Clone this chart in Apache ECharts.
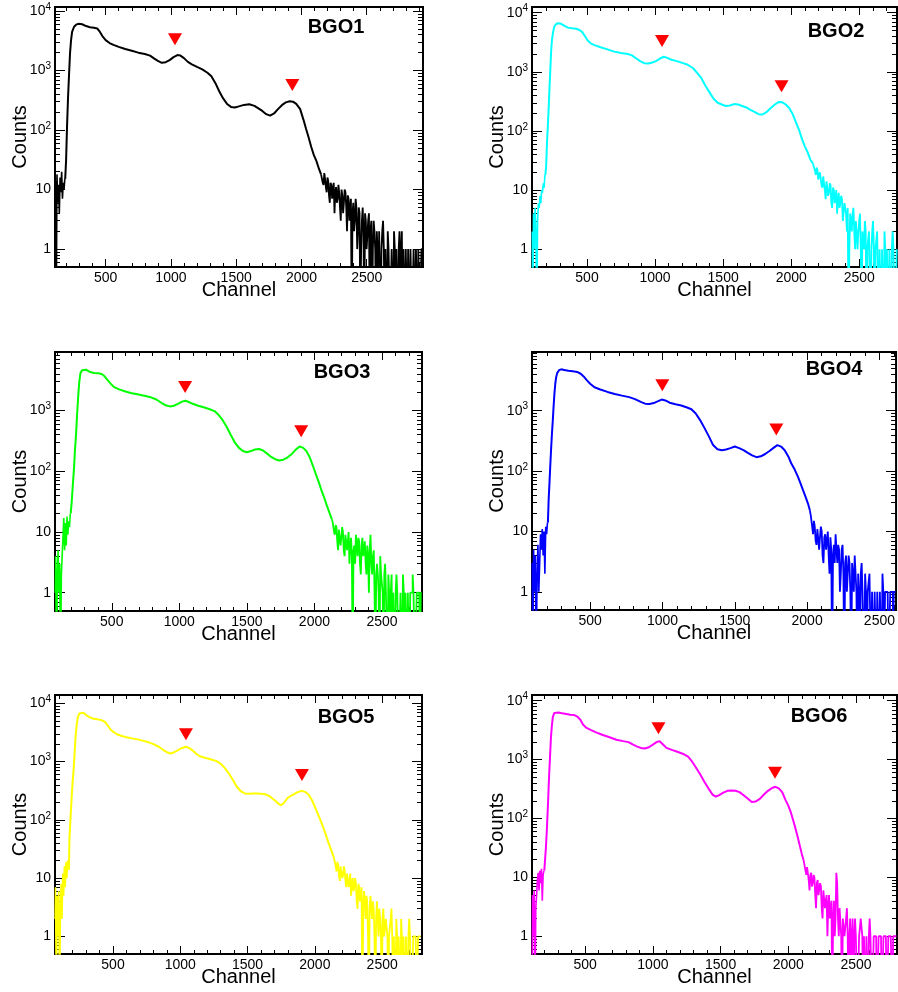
<!DOCTYPE html>
<html>
<head>
<meta charset="utf-8">
<script src="https://cdn.jsdelivr.net/npm/echarts@6/dist/echarts.min.js"></script>
<style>
  html, body { margin: 0; padding: 0; background: #ffffff; }
  #chart { width: 898px; height: 992px; }
</style>
</head>
<body>
<div id="chart"></div>
<script>
// Energy spectra of the six BGO crystals: [channel, counts]
const bgo1 = [
  [112,3],[118,14],[124,0],[130,18],[136,6],[142,12],[148,4],[154,16],[160,9],[166,20],[172,7],[178,13],[184,10],[190,15],
  [197,31],[204,112],[212,360],[220,890],[227,1940],[235,3240],[243,4470],[258,5450],[274,5900],[290,6100],
  [320,6000],[350,5600],[380,5350],[410,5250],[435,5100],[455,4500],[475,3800],[500,3250],[530,2900],[560,2700],
  [600,2500],[650,2300],[700,2150],[750,2000],[800,1900],[840,1780],[870,1600],[900,1450],[930,1350],[960,1380],
  [990,1500],[1020,1680],[1050,1820],[1070,1800],[1100,1620],[1130,1400],[1160,1270],[1200,1150],[1240,1050],
  [1280,920],[1310,800],[1340,620],[1370,450],[1400,340],[1430,275],[1460,245],[1490,240],[1520,250],[1560,265],
  [1600,272],[1640,255],[1670,232],[1700,210],[1730,185],[1760,175],[1790,190],[1820,225],[1850,262],[1880,292],
  [1910,305],[1935,300],[1960,275],[1990,225],[2015,150],[2035,105],[2055,75],[2075,52],[2095,38],[2115,30],
  [2135,22],[2150,18],
  [2160,17],[2166,13],[2172,12],[2178,19],[2184,15],[2190,11],[2196,9],[2202,16],[2208,14],[2214,8],[2220,6],
  [2226,13],[2232,12],[2238,7],[2244,10],[2250,13],[2256,4],[2262,9],[2268,11],[2274,6],[2280,7],[2286,12],
  [2292,9],[2298,5],[2304,3],[2310,10],[2316,8],[2322,4],[2328,6],[2334,10],[2340,9],[2346,5],[2352,2],[2358,8],
  [2364,7],[2370,3],[2376,5],[2382,7],[2388,0],[2394,4],[2400,6],[2406,2],[2412,3],[2418,7],[2424,5],[2430,1],
  [2436,2],[2442,5],[2448,4],[2454,0],[2460,1],[2466,3],[2472,5],[2478,2],[2484,0],[2490,4],[2496,3],[2502,1],
  [2508,1],[2514,3],[2520,4],[2526,0],[2532,2],[2538,3],[2544,0],[2550,1],[2556,3],[2562,2],[2568,1],[2574,0],
  [2580,2],[2586,1],[2592,0],[2598,2],[2604,2],[2610,0],[2616,1],[2622,2],[2628,3],[2634,1],[2640,0],[2646,1],
  [2652,1],[2658,0],[2664,2],[2670,1],[2676,1],[2682,0],[2688,0],[2694,1],[2700,1],[2706,0],[2712,2],[2718,1],
  [2724,0],[2730,1],[2736,1],[2742,0],[2748,1],[2754,2],[2760,0],[2766,1],[2772,2],[2778,0],[2784,1],[2790,1],
  [2796,0],[2802,1],[2808,1],[2814,0],[2820,1],[2826,1],[2832,0],[2838,1],[2844,1],[2850,0],[2856,0],[2862,1],
  [2868,1],[2874,0],[2880,1],[2886,1],[2892,0],[2898,1],[2904,1],[2910,0],[2916,0],[2922,1],[2928,1]
];
const bgo2 = [
  [98,2],[104,0],[110,4],[116,1],[122,5],[128,2],[134,0],[140,3],[146,6],[152,5],[158,8],[164,6],[170,10],[176,9],
  [182,13],[188,11],[194,18],
  [200,25],[206,62],[212,118],[218,230],[224,500],[230,1020],[236,2100],[242,3330],[250,4600],[260,5850],[275,6500],[290,6650],
  [310,6500],[335,6000],[360,5600],[390,5450],[420,5350],[445,5100],[465,4700],[485,4000],[505,3400],[530,3000],
  [560,2800],[600,2600],[650,2400],[700,2200],[750,2080],[800,2000],[830,1900],[860,1700],[890,1520],[920,1400],
  [950,1380],[980,1440],[1010,1530],[1040,1700],[1065,1800],[1090,1720],[1120,1600],[1160,1520],[1200,1420],
  [1240,1320],[1280,1150],[1310,950],[1340,780],[1370,580],[1400,450],[1430,350],[1460,300],[1490,280],[1520,265],
  [1550,270],[1580,285],[1610,280],[1640,265],[1670,250],[1700,228],[1730,210],[1760,192],[1790,190],[1820,210],
  [1850,245],[1880,280],[1910,310],[1935,305],[1960,280],[1985,245],[2010,195],[2035,140],[2060,100],[2080,72],
  [2100,55],[2120,44],[2140,33],[2160,28],
  [2172,26],[2178,21],[2184,18],[2190,24],[2196,22],[2202,15],[2208,14],[2214,20],[2220,19],[2226,12],[2232,11],
  [2238,17],[2244,16],[2250,10],[2256,7],[2262,14],[2268,13],[2274,8],[2280,9],[2286,13],[2292,12],[2298,6],
  [2304,5],[2310,11],[2316,10],[2322,6],[2328,8],[2334,10],[2340,4],[2346,7],[2352,9],[2358,5],[2364,6],[2370,8],
  [2376,7],[2382,3],[2388,3],[2394,6],[2400,6],[2406,4],[2412,2],[2418,5],[2424,0],[2430,1],[2436,4],[2442,3],
  [2448,2],[2454,4],[2460,5],[2466,2],[2472,1],[2478,3],[2484,3],[2490,1],[2496,2],[2502,3],[2508,4],[2514,1],
  [2520,0],[2526,2],[2532,2],[2538,1],[2544,3],[2550,2],[2556,0],[2562,1],[2568,1],[2574,2],[2580,2],[2586,0],
  [2592,1],[2598,2],[2604,3],[2610,1],[2616,0],[2622,1],[2628,1],[2634,2],[2640,2],[2646,0],[2652,1],[2658,1],
  [2664,0],[2670,1],[2676,1],[2682,0],[2688,2],[2694,1],[2700,0],[2706,1],[2712,1],[2718,0],[2724,1],[2730,1],
  [2736,0],[2742,1],[2748,2],[2754,1],[2760,1],[2766,0],[2772,0],[2778,1]
];
const bgo3 = [
  [82,1],[88,4],[94,0],[100,2],[106,5],[112,1],[118,3],[124,0],[130,2],[136,4],[142,8],[148,17],[154,5],[160,14],
  [166,6],[172,18],[178,9],[184,15],[190,12],[196,20],
  [204,32],[212,60],[221,115],[228,230],[236,410],[244,900],[253,1900],[260,3000],[268,4100],[280,4600],[292,4800],
  [310,4700],[340,4300],[370,4150],[400,4100],[425,4000],[445,3700],[465,3250],[490,2800],[515,2450],[550,2250],
  [590,2100],[640,1950],[690,1850],[740,1750],[790,1650],[830,1520],[870,1330],[900,1220],[930,1170],[960,1200],
  [990,1290],[1020,1400],[1045,1450],[1070,1380],[1100,1290],[1140,1200],[1180,1130],[1220,1060],[1260,980],
  [1290,850],[1320,700],[1350,540],[1380,400],[1410,300],[1440,245],[1470,215],[1500,205],[1530,215],[1560,228],
  [1590,232],[1620,220],[1650,195],[1680,172],[1710,158],[1740,150],[1770,155],[1800,168],[1830,190],[1860,225],
  [1890,255],[1915,245],[1940,215],[1965,170],[1990,120],[2010,90],[2030,68],[2050,50],[2070,38],[2090,28],
  [2110,21],[2130,16],
  [2142,14],[2148,10],[2154,9],[2160,13],[2166,12],[2172,7],[2178,5],[2184,11],[2190,11],[2196,6],[2202,8],
  [2208,12],[2214,10],[2220,5],[2226,4],[2232,9],[2238,9],[2244,5],[2250,7],[2256,10],[2262,3],[2268,6],[2274,8],
  [2280,4],[2286,0],[2292,5],[2298,6],[2304,3],[2310,9],[2316,6],[2322,4],[2328,8],[2334,7],[2340,3],[2346,2],
  [2352,6],[2358,8],[2364,4],[2370,5],[2376,7],[2382,3],[2388,2],[2394,6],[2400,4],[2406,1],[2412,5],[2418,9],
  [2424,3],[2430,2],[2436,4],[2442,5],[2448,1],[2454,0],[2460,2],[2466,3],[2472,2],[2478,1],[2484,0],[2490,4],
  [2496,2],[2502,2],[2508,1],[2514,0],[2520,2],[2526,3],[2532,1],[2538,1],[2544,0],[2550,2],[2556,1],[2562,0],
  [2568,1],[2574,2],[2580,0],[2586,1],[2592,1],[2598,0],[2604,1],[2610,2],[2616,1],[2622,1],[2628,0],[2634,0],
  [2640,1],[2646,1],[2652,0],[2658,2],[2664,1],[2670,0],[2676,1],[2682,1],[2688,0],[2694,1],[2700,1],[2706,0],
  [2712,1],[2718,1],[2724,1],[2730,2],[2736,1],[2742,1],[2748,0],[2754,0],[2760,1],[2766,1],[2772,1],[2778,1],
  [2784,0],[2790,1],[2796,1]
];
const bgo4 = [
  [100,3],[106,0],[112,5],[118,1],[124,4],[130,0],[136,2],[142,6],[148,1],[154,3],[160,9],[166,5],[172,11],[178,4],
  [184,10],[190,2],[196,12],[202,9],[208,14],
  [213,33],[219,65],[224,118],[230,230],[236,420],[242,700],[247,1150],[253,1900],[259,2800],[265,3600],[272,4200],
  [285,4700],[300,4850],
  [320,4750],[350,4600],[380,4500],[410,4400],[435,4100],[455,3700],[475,3250],[500,2800],[530,2450],[570,2250],
  [620,2050],[670,1900],[720,1780],[770,1680],[810,1560],[850,1400],[880,1310],[910,1290],[940,1340],[970,1440],
  [995,1530],[1020,1480],[1050,1360],[1090,1280],[1130,1220],[1170,1130],[1200,1060],[1230,900],[1260,700],
  [1290,520],[1320,380],[1350,270],[1380,230],[1410,222],[1440,228],[1470,240],[1500,255],[1530,240],[1560,222],
  [1590,200],[1620,182],[1650,170],[1680,176],[1710,192],[1740,215],[1770,245],[1795,270],[1820,255],[1845,222],
  [1870,175],[1890,135],[1915,105],[1937,80],[1955,62],[1971,49],[1990,37],[2006,29],[2020,22],
  [2032,18],[2038,12],[2044,9],[2050,15],[2056,12],[2062,7],[2068,6],[2074,11],[2080,11],[2086,5],[2092,8],
  [2098,12],[2104,10],[2110,4],[2116,3],[2122,8],[2128,9],[2134,5],[2140,7],[2146,10],[2152,4],[2158,2],[2164,8],
  [2170,5],[2176,0],[2182,4],[2188,6],[2194,3],[2200,9],[2206,5],[2212,3],[2218,6],[2224,5],[2230,1],[2236,2],
  [2242,5],[2248,6],[2254,2],[2260,0],[2266,3],[2272,4],[2278,1],[2284,2],[2290,4],[2296,3],[2302,1],[2308,0],
  [2314,3],[2320,2],[2326,1],[2332,4],[2338,2],[2344,1],[2350,0],[2356,2],[2362,1],[2368,0],[2374,2],[2380,3],
  [2386,1],[2392,1],[2398,0],[2404,2],[2410,1],[2416,0],[2422,1],[2428,1],[2434,2],[2440,2],[2446,0],[2452,1],
  [2458,1],[2464,0],[2470,1],[2476,1],[2482,0],[2488,1],[2494,1],[2500,0],[2506,1],[2512,1],[2518,0],[2524,2],
  [2530,1],[2536,0],[2542,1],[2548,1],[2554,1],[2560,1],[2566,0],[2572,0],[2578,1],[2584,1],[2590,1],[2596,0],
  [2602,1],[2608,1],[2615,1]
];
const bgo5 = [
  [70,2],[76,7],[82,0],[88,5],[94,1],[100,6],[106,0],[112,3],[118,8],[124,2],[130,12],[136,5],[142,16],[148,7],
  [154,19],[160,10],[166,20],[172,14],
  [177,52],[183,95],[189,170],[195,300],[201,480],[207,720],[214,1300],[222,2700],[230,4300],[239,5800],[250,6700],
  [264,7100],
  [280,6900],[300,6300],[325,5800],[350,5500],[380,5350],[410,5200],[440,4800],[460,4200],[480,3600],[505,3200],
  [530,2950],[565,2750],[600,2620],[650,2480],[700,2360],[750,2200],[800,2000],[840,1800],[875,1580],[900,1450],
  [925,1380],[950,1430],[980,1560],[1010,1700],[1040,1800],[1065,1720],[1090,1560],[1120,1350],[1150,1220],
  [1190,1150],[1230,1090],[1270,1020],[1300,920],[1330,780],[1360,630],[1390,490],[1420,370],[1450,310],[1480,285],
  [1510,280],[1540,285],[1570,285],[1600,280],[1630,275],[1660,258],[1690,228],[1720,198],[1745,178],[1770,195],
  [1795,235],[1825,262],[1855,285],[1880,305],[1905,315],[1930,300],[1955,268],[1980,215],[2005,158],[2030,115],
  [2055,82],[2080,57],[2102,40],[2122,30],[2140,23],
  [2152,20],[2158,16],[2164,13],[2170,19],[2176,17],[2182,11],[2188,9],[2194,16],[2200,15],[2206,10],[2212,11],
  [2218,16],[2224,14],[2230,9],[2236,7],[2242,12],[2248,12],[2254,7],[2260,9],[2266,12],[2272,5],[2278,8],
  [2284,10],[2290,6],[2296,7],[2302,10],[2308,8],[2314,4],[2320,3],[2326,8],[2332,7],[2338,4],[2344,5],[2350,7],
  [2356,0],[2362,3],[2368,6],[2374,4],[2380,2],[2386,5],[2392,4],[2398,1],[2404,0],[2410,3],[2416,5],[2422,3],
  [2428,2],[2434,4],[2440,3],[2446,1],[2452,0],[2458,2],[2464,4],[2470,2],[2476,1],[2482,3],[2488,2],[2494,1],
  [2500,0],[2506,2],[2512,3],[2518,1],[2524,1],[2530,2],[2536,2],[2542,1],[2548,0],[2554,1],[2560,1],[2566,2],
  [2572,3],[2578,1],[2584,0],[2590,1],[2596,1],[2602,0],[2608,2],[2614,1],[2620,0],[2626,1],[2632,1],[2638,0],
  [2644,2],[2650,1],[2656,0],[2662,1],[2668,1],[2674,0],[2680,1],[2686,1],[2692,0],[2698,1],[2704,2],[2710,1],
  [2716,1],[2722,0],[2728,0],[2734,1],[2740,1],[2746,1],[2752,1],[2758,0],[2764,0],[2770,1],[2776,1],[2782,1],
  [2790,1]
];
const bgo6 = [
  [108,0],[114,5],[120,1],[126,6],[132,0],[138,3],[144,5],[150,9],[156,12],[162,6],[168,13],[174,8],[180,14],
  [186,4],[192,11],[198,13],
  [210,33],[216,60],[222,120],[228,260],[234,580],[240,1100],[247,2400],[254,3800],[261,5300],[272,6200],[286,6500],
  [305,6300],[330,6100],[360,5950],[390,5800],[420,5700],[445,5300],[465,4700],[485,3900],[510,3450],[540,3200],
  [580,2900],[630,2620],[680,2400],[730,2170],[780,2060],[820,1980],[850,1820],[880,1680],[910,1580],[940,1540],
  [970,1620],[1000,1800],[1030,2000],[1050,2050],[1075,1800],[1100,1580],[1140,1460],[1180,1360],[1220,1260],
  [1260,1120],[1290,920],[1320,720],[1350,560],[1380,420],[1410,325],[1440,255],[1465,235],[1490,250],[1520,275],
  [1550,295],[1580,300],[1610,295],[1640,280],[1670,248],[1700,218],[1730,190],[1760,195],[1790,215],[1820,255],
  [1850,295],[1880,330],[1905,345],[1930,325],[1955,280],[1980,205],[2000,165],[2015,135],[2035,95],[2050,72],
  [2070,48],[2087,33],[2100,25],[2112,20],
  [2124,17],[2130,13],[2136,11],[2142,15],[2148,14],[2154,9],[2160,6],[2166,11],[2172,12],[2178,7],[2184,8],
  [2190,11],[2196,10],[2202,5],[2208,3],[2214,8],[2220,9],[2226,5],[2232,5],[2238,8],[2244,7],[2250,3],[2256,2],
  [2262,6],[2268,6],[2274,3],[2280,4],[2286,5],[2292,1],[2298,3],[2304,5],[2310,2],[2316,3],[2322,4],[2328,0],
  [2334,2],[2340,4],[2346,1],[2352,2],[2358,12],[2364,8],[2370,2],[2376,1],[2382,3],[2388,3],[2394,1],[2400,0],
  [2406,2],[2412,2],[2418,1],[2424,1],[2430,2],[2436,3],[2442,1],[2448,0],[2454,1],[2460,2],[2466,0],[2472,1],
  [2478,2],[2484,0],[2490,1],[2496,2],[2502,1],[2508,1],[2514,0],[2520,0],[2526,1],[2532,1],[2538,2],[2544,2],
  [2550,1],[2556,0],[2562,1],[2568,1],[2574,0],[2580,1],[2586,1],[2592,0],[2598,1],[2604,2],[2610,1],[2616,1],
  [2622,0],[2628,0],[2634,1],[2640,1],[2646,1],[2652,1],[2658,0],[2664,0],[2670,1],[2676,1],[2682,1],[2688,1],
  [2694,0],[2700,0],[2706,1],[2712,1],[2718,1],[2724,1],[2730,0],[2736,0],[2742,1],[2748,1],[2754,1],[2760,1],
  [2766,1],[2772,0],[2778,1],[2784,1],[2790,1],[2796,1],[2802,1]
];

const spectra = [bgo1, bgo2, bgo3, bgo4, bgo5, bgo6];
const detectorNames = ['BGO1', 'BGO2', 'BGO3', 'BGO4', 'BGO5', 'BGO6'];
const lineColors = ['#000000', '#00ffff', '#00ff00', '#0000ff', '#ffff00', '#ff00ff'];

// Low-statistics regions (drawn as histogram steps): below the rising edge and above the tail start
const riseStart = [190, 194, 196, 208, 172, 198];
const tailStart = [2150, 2160, 2130, 2020, 2140, 2112];

// Marked photopeaks (channel, counts at the marker)
const peakChannels = [[1031, 1930], [1051, 1929], [1043, 1902], [999, 1787], [1042, 1904], [1041, 1902]];
const peakCounts = [[3370, 573], [3330, 570], [2430, 455], [2650, 491], [2940, 591], [3390, 597]];

// Axis ranges
const channelRanges = [[112, 2931], [96, 2777], [80, 2796], [98, 2615], [69, 2796], [107, 2803]];
const countsMax = [11700, 12500, 9200, 9400, 13900, 12500];
const countsMin = 0.5;

const xMajorTicks = [500, 1000, 1500, 2000, 2500];
const yMajorTicks = [1, 10, 100, 1000, 10000];
const xAxisTitle = 'Channel';
const yAxisTitle = 'Counts';

// Panel frames: [left, top, width, height]
const frames = [
  [55, 7, 368, 260], [532, 7, 365, 260],
  [55, 352, 367, 259], [532, 352, 365, 258],
  [55, 695, 367, 259], [532, 695, 365, 259]
];
const namePositions = [[336, 27], [836, 31], [342, 372], [834, 369], [346, 717], [819, 716]];

const FONT = '"Liberation Sans", Arial, Helvetica, sans-serif';
const EMPTY_BIN = 0.05; // empty bins fall below the frame on a log scale

const xMinorTicks = [];
for (let c = 100; c <= 2900; c += 100) if (c % 500 !== 0) xMinorTicks.push(c);
const yMinorTicks = [];
[0.1, 1, 10, 100, 1000].forEach(function (d) {
  for (let m = 2; m <= 9; m++) yMinorTicks.push(+(m * d).toPrecision(3));
});

function inRange(vals, lo, hi) { return vals.filter(function (v) { return v >= lo && v <= hi; }); }
function toPoint(p) { return [p[0], p[1] > 0 ? p[1] : EMPTY_BIN]; }

const grids = [], xAxes = [], yAxes = [], series = [], graphics = [];

spectra.forEach(function (spec, k) {
  const f = frames[k];
  grids.push({
    left: f[0], top: f[1], width: f[2], height: f[3],
    show: true, borderColor: '#000', borderWidth: 2, backgroundColor: 'transparent'
  });
  const xr = channelRanges[k];
  const yr = [countsMin, countsMax[k]];
  const xMaj = inRange(xMajorTicks, xr[0], xr[1]);
  const xMin = inRange(xMinorTicks, xr[0], xr[1]);
  const yMaj = inRange(yMajorTicks, yr[0], yr[1]);
  const yMin = inRange(yMinorTicks, yr[0], yr[1]);

  function xAxis(pos, ticks, len, labels) {
    const a = {
      type: 'value', gridIndex: k, position: pos, min: xr[0], max: xr[1],
      axisLine: { show: false }, splitLine: { show: false },
      axisTick: { show: true, inside: true, length: len, customValues: ticks, lineStyle: { color: '#000', width: 1 } },
      axisLabel: {
        show: labels, customValues: xMaj, margin: 4, color: '#000', fontSize: 14, fontFamily: FONT,
        formatter: function (v) { return String(v); }
      }
    };
    if (labels) {
      a.name = xAxisTitle; a.nameLocation = 'middle'; a.nameGap = 13; a.nameMoveOverlap = false;
      a.nameTextStyle = { fontSize: 20, fontFamily: FONT, color: '#000' };
    }
    return a;
  }
  function yAxis(pos, ticks, len, labels) {
    const a = {
      type: 'log', logBase: 10, gridIndex: k, position: pos, min: yr[0], max: yr[1],
      axisLine: { show: false }, splitLine: { show: false },
      axisTick: { show: true, inside: true, length: len, customValues: ticks, lineStyle: { color: '#000', width: 1 } },
      axisLabel: {
        show: labels, customValues: yMaj, margin: 4, color: '#000', fontSize: 14, fontFamily: FONT,
        formatter: function (v) {
          const e = Math.round(Math.log10(v));
          return e <= 1 ? String(Math.round(v)) : '10{sup|' + e + '}';
        },
        rich: { sup: { fontSize: 10, fontFamily: FONT, color: '#000', verticalAlign: 'top', padding: [0, 0, 8, 0] } }
      }
    };
    if (labels) {
      a.name = yAxisTitle; a.nameLocation = 'middle'; a.nameGap = 25; a.nameRotate = 90; a.nameMoveOverlap = false;
      a.nameTextStyle = { fontSize: 20, fontFamily: FONT, color: '#000' };
    }
    return a;
  }

  const xi = xAxes.length, yi = yAxes.length;
  xAxes.push(xAxis('bottom', xMaj, 8, true), xAxis('bottom', xMin, 4, false),
             xAxis('top', xMaj, 8, false), xAxis('top', xMin, 4, false));
  yAxes.push(yAxis('left', yMaj, 10, true), yAxis('left', yMin, 5, false),
             yAxis('right', yMaj, 10, false), yAxis('right', yMin, 5, false));

  const head = spec.filter(function (p) { return p[0] <= riseStart[k]; }).map(toPoint);
  const body = spec.filter(function (p) { return p[0] >= riseStart[k] && p[0] <= tailStart[k]; }).map(toPoint);
  const tail = spec.filter(function (p) { return p[0] >= tailStart[k]; }).map(toPoint);

  [[head, 'middle', 1.6], [body, false, 2], [tail, 'middle', 1.8]].forEach(function (part) {
    series.push({
      type: 'line', xAxisIndex: xi, yAxisIndex: yi, showSymbol: false, clip: true, step: part[1],
      data: part[0], lineStyle: { color: lineColors[k], width: part[2] }, itemStyle: { color: lineColors[k] },
      silent: true, z: 2
    });
  });
  series.push({
    type: 'scatter', xAxisIndex: xi, yAxisIndex: yi, symbol: 'triangle', symbolRotate: 180,
    symbolSize: [14, 12], itemStyle: { color: '#ff0000', opacity: 1 }, silent: true, z: 3,
    data: peakChannels[k].map(function (c, i) { return [c, peakCounts[k][i]]; })
  });
  graphics.push({
    type: 'text', x: namePositions[k][0], y: namePositions[k][1], z: 10,
    style: { text: detectorNames[k], font: 'bold 20px ' + FONT, fill: '#000', textAlign: 'center', textVerticalAlign: 'middle' }
  });
});

const chart = echarts.init(document.getElementById('chart'), null, { renderer: 'canvas' });
chart.setOption({
  animation: false,
  backgroundColor: '#ffffff',
  grid: grids,
  xAxis: xAxes,
  yAxis: yAxes,
  series: series,
  graphic: graphics
});
</script>
</body>
</html>
